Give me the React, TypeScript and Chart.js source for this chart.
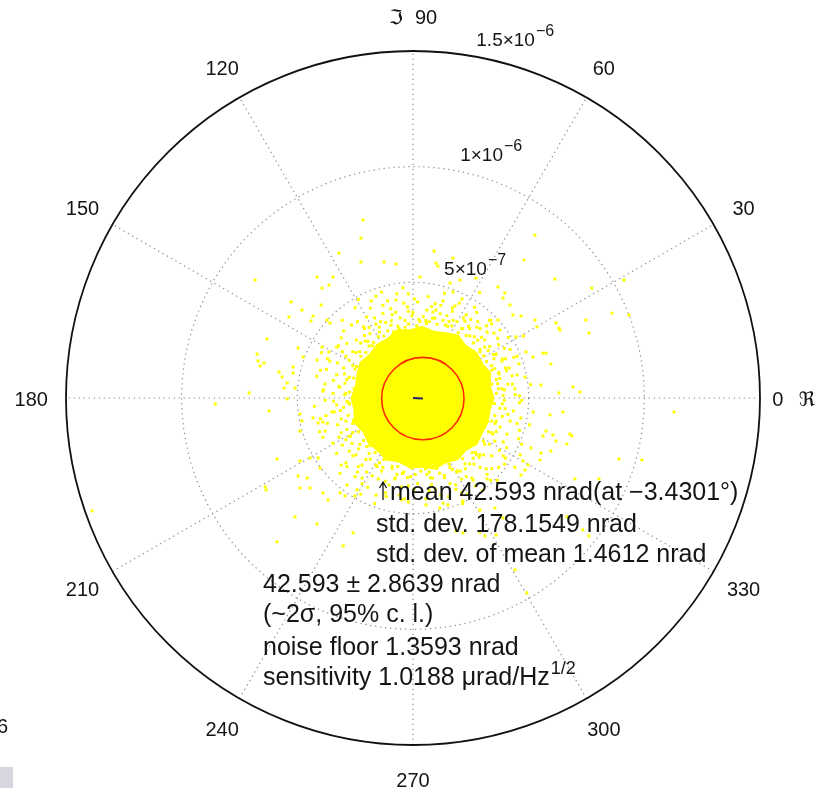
import { useEffect, useRef } from 'react';
import { Chart, registerables } from 'chart.js';

Chart.register(...registerables);

// All magnitudes in nrad (real part, imaginary part)
const ringValues = [500, 1000, 1500];
const ringLabelBase = ['5×10', '1×10', '1.5×10'];
const ringLabelExp = ['−7', '−6', '−6'];
const angleTicks = [0, 30, 60, 90, 120, 150, 180, 210, 240, 270, 300, 330];

const meanMagnitude = 42.593;
const meanAngleDeg = -3.4301;
const stdDev = 178.1549;
const stdDevOfMean = 1.4612;
const confidenceHalfWidth = 2.8639;
const noiseFloor = 1.3593;
const sensitivity = 1.0188;

// solid centre of the sample cloud (boundary vertices)
const coreOutline: [number, number][] = [
  [353, 0], [336, 52], [338, 108], [302, 151], [277, 199], [231, 228], [197, 273], [143, 284],
  [91, 291], [40, 312], [-12, 297], [-68, 298], [-110, 260], [-157, 235], [-188, 191], [-230, 156],
  [-244, 103], [-251, 51], [-270, 0], [-257, -52], [-256, -108], [-217, -149], [-195, -197], [-154, -231],
  [-116, -270], [-62, -279], [-14, -305], [40, -302], [95, -310], [143, -282], [195, -268], [231, -228],
  [279, -201], [302, -151], [328, -105], [335, -52],
];

// samples just outside the solid centre
const innerHalo: [number, number][] = [
  [360, 20], [375, 85], [340, 140], [325, 205], [280, 250], [245, 300], [190, 330], [130, 335],
  [70, 330], [400, 130], [310, 250], [170, 390], [420, 210], [100, 380], [280, 330], [440, 40],
  [350, 280], [60, 380], [390, 10], [210, 300], [360, 190], [120, 400], [230, 360], [450, 100],
  [290, 210], [150, 310], [95, 345], [385, 160], [330, 335], [410, 60],
  [30, 330], [-20, 320], [-65, 310], [-110, 290], [-150, 265], [-190, 225], [-225, 180], [-250, 125],
  [-275, 90], [-290, 20], [0, 370], [-90, 360], [-160, 320], [-210, 270], [-260, 200], [-300, 130],
  [-320, 50], [-40, 410], [-130, 400], [-200, 350], [-310, 260], [-360, 160], [-380, 60], [-70, 450],
  [-250, 390], [-230, 120], [-140, 330], [-305, 200], [-20, 450], [-180, 420],
  [-285, -15], [-280, -75], [-260, -150], [-230, -200], [-190, -240], [-145, -280], [-90, -305], [-40, -320],
  [10, -330], [-330, -30], [-310, -150], [-260, -250], [-200, -320], [-120, -360], [-20, -380], [-370, -110],
  [-330, -240], [-220, -370], [-50, -440], [-160, -290], [-290, -180], [-80, -350], [-340, -60], [20, -370],
  [-240, -320], [-400, -90], [-120, -410], [-310, -90],
  [60, -330], [115, -325], [170, -310], [225, -285], [275, -245], [310, -200], [340, -150], [360, -100],
  [375, -45], [80, -375], [160, -370], [230, -340], [290, -300], [340, -250], [390, -190], [420, -100],
  [460, -20], [120, -420], [210, -410], [320, -350], [400, -260], [460, -140], [270, -380], [370, -300],
  [190, -320], [340, -100], [260, -260], [410, -70],
];

// second band of samples around the centre
const midHalo: [number, number][] = [
  [385, 40], [370, 110], [350, 170], [310, 220], [265, 265], [215, 300], [155, 330], [85, 345],
  [415, 130], [370, 230], [320, 285], [250, 340], [170, 375], [80, 395], [430, 60], [400, 170],
  [290, 300], [450, 180], [340, 320], [200, 410], [370, 40], [340, 120], [290, 200], [230, 270],
  [140, 315], [55, 335], [460, 10], [395, 215], [275, 370], [130, 420], [360, 80], [240, 310],
  [25, 340], [-35, 335], [-95, 315], [-145, 285], [-195, 245], [-230, 200], [-260, 140], [-285, 80],
  [-295, 15], [-20, 375], [-75, 370], [-190, 305], [-245, 250], [-290, 180], [-330, 100], [-345, 20],
  [20, 415], [-110, 420], [-240, 330], [-330, 220], [-390, 30], [-60, 300], [-170, 240], [-255, 40],
  [-210, 300], [-130, 365], [-300, 290], [-370, 170], [-160, 440], [-400, 120],
  [-300, -40], [-290, -100], [-270, -165], [-235, -220], [-185, -265], [-130, -300], [-70, -330], [-10, -340],
  [-350, -60], [-320, -170], [-275, -230], [-220, -290], [-150, -350], [-50, -385], [-390, -170], [-310, -290],
  [-250, -340], [-160, -420], [-20, -450], [-280, -20], [-260, -110], [-200, -210], [-90, -295], [-290, -280],
  [-380, -10], [-60, -420],
  [75, -345], [135, -335], [190, -315], [245, -285], [290, -245], [330, -200], [360, -145], [385, -80],
  [395, -10], [70, -400], [185, -395], [260, -355], [340, -305], [405, -215], [450, -110], [470, -10],
  [130, -455], [300, -400], [440, -300], [520, -60], [70, -320], [160, -300], [270, -235], [355, -110],
  [210, -350], [320, -330], [390, -250], [470, -200],
];

// samples further out, thinning with distance
const haloPoints: [number, number][] = [
  [340, 60], [372, 104], [318, 158], [395, 35], [306, 182], [262, 238], [246, 268], [196, 282],
  [168, 312], [104, 318], [58, 322], [386, 168], [332, 222], [296, 262], [224, 332], [146, 356],
  [86, 372], [428, 96], [442, 14], [366, 258], [318, 312], [182, 398], [96, 408], [458, 148],
  [412, 262], [266, 392], [136, 452], [352, 126], [366, 62], [348, 188], [276, 306], [218, 346],
  [174, 336], [118, 364], [44, 352], [404, 118], [436, 176], [336, 336], [212, 428], [66, 438],
  [508, 58], [478, 268], [288, 456],
  [16, 312], [-34, 306], [-84, 286], [-126, 268], [-176, 226], [-204, 196], [-244, 136], [-256, 86],
  [-274, 26], [-4, 356], [-56, 346], [-118, 326], [-186, 278], [-226, 238], [-276, 164], [-296, 104],
  [-316, 46], [-24, 394], [-96, 386], [-166, 346], [-214, 308], [-286, 236], [-326, 152], [-344, 76],
  [6, 428], [-74, 424], [-184, 388], [-266, 316], [-322, 226], [-374, 124], [-386, 36], [-136, 458],
  [-306, 336], [-396, 196], [-44, 476], [-236, 426], [-416, 94], [-146, 306], [-206, 246], [-94, 334],
  [-246, 196], [-294, 64],
  [-274, -26], [-258, -96], [-236, -146], [-214, -184], [-164, -236], [-126, -266], [-66, -296], [-6, -302],
  [34, -316], [-314, -54], [-286, -136], [-264, -196], [-204, -266], [-156, -296], [-76, -346], [-24, -344],
  [-344, -14], [-326, -116], [-306, -204], [-236, -296], [-176, -336], [-104, -376], [4, -396], [-376, -76],
  [-346, -196], [-286, -296], [-196, -386], [-116, -426], [-36, -436], [-404, -146], [-316, -326], [-226, -416],
  [-166, -456], [-426, -36], [-186, -206], [-136, -316], [-276, -166], [-46, -326], [-246, -246],
  [54, -306], [104, -304], [156, -286], [214, -262], [256, -236], [304, -186], [326, -146], [354, -76],
  [352, -24], [84, -346], [136, -344], [204, -316], [264, -286], [306, -246], [354, -186], [376, -126],
  [398, -46], [96, -394], [184, -376], [254, -346], [316, -306], [374, -226], [406, -156], [434, -56],
  [56, -436], [154, -426], [236, -416], [336, -356], [396, -286], [456, -176], [466, -86], [214, -456],
  [364, -356], [464, -246], [504, -116], [116, -476], [286, -256], [226, -306], [346, -156], [386, -26],
];

// sparse samples in the tails of the distribution
const outerPoints: [number, number][] = [
  [-683, 510], [-527, 415], [-536, 350], [-631, 255], [-674, 190], [-670, 160], [-661, 138], [-644, 151],
  [-579, 112], [-566, 91], [-544, 65], [-557, 43], [-518, 108], [-708, 22], [-855, -26], [-622, -56],
  [-544, -4], [-510, 43], [-216, 769], [-225, 691], [-320, 626], [-225, 588], [-125, 588], [-73, 579],
  [-415, 523], [-346, 523], [-393, 475], [-363, 488], [-480, 380], [-397, 402], [-432, 354], [-441, 333],
  [-372, 337], [-359, 324], [-497, 216], [-518, 134], [-475, 177], [-415, 164], [-393, 220], [-363, 199],
  [527, 704], [91, 635], [99, 583], [108, 570], [480, 596], [613, 514], [773, 475], [389, 432],
  [397, 454], [419, 402], [432, 359], [467, 354], [527, 337], [536, 307], [618, 324], [631, 302],
  [747, 337], [760, 281], [562, 194], [575, 194], [596, 147], [518, 177], [488, 199], [691, 48],
  [631, 22], [553, 56], [484, 91], [445, 264], [367, 337], [376, 294], [272, 518], [203, 510],
  [160, 497], [173, 458], [30, 523], [912, 510], [860, 367], [933, 359], [635, 294], [721, 26],
  [648, -60], [1128, -60], [687, -164], [665, -199], [890, -264], [989, -268], [700, -350], [804, -350],
  [665, -514], [734, -570], [760, -596], [592, -73], [678, -156], [575, -143], [605, -160], [562, -164],
  [618, -186], [510, -216], [553, -238], [596, -229], [549, -268], [475, -272], [497, -289], [467, -333],
  [484, -311], [56, -462], [151, -462], [216, -445], [289, -484], [354, -475], [186, -575], [216, -583],
  [311, -596], [359, -592], [389, -518], [289, -579], [441, -743], [492, -842],
  [-588, -264], [-488, -69], [-480, -99], [-488, -143], [-432, -86], [-410, -108], [-389, -104], [-380, -143],
  [-488, -272], [-445, -259], [-410, -259], [-402, -302], [-458, -346], [-497, -337], [-635, -397], [-488, -389],
  [-445, -389], [-389, -410], [-367, -441], [-510, -514], [-415, -544], [-588, -622], [-302, -639], [-259, -583],
  [-315, -410], [-294, -423], [-251, -423], [-285, -376], [-242, -397], [-220, -346], [-639, -384], [-1387, -488],
  [173, 605], [367, 480],
];

const FONT = '"Liberation Sans", Arial, "DejaVu Sans", sans-serif';
const TEXT = '#151515';

const meanRe = meanMagnitude * Math.cos((meanAngleDeg * Math.PI) / 180);
const meanIm = meanMagnitude * Math.sin((meanAngleDeg * Math.PI) / 180);

const toXY = (pts: [number, number][]) => pts.map(([x, y]) => ({ x, y }));

function drawSup(ctx: CanvasRenderingContext2D, base: string, sup: string, x: number, y: number,
  baseSize: number, supSize: number, raise: number) {
  ctx.font = `${baseSize}px ${FONT}`;
  ctx.textAlign = 'left';
  ctx.textBaseline = 'alphabetic';
  ctx.fillText(base, x, y);
  const w = ctx.measureText(base).width;
  ctx.font = `${supSize}px ${FONT}`;
  ctx.fillText(sup, x + w + 1, y - raise);
}

const polarPlugin = {
  id: 'polarFrame',
  beforeDatasetsDraw(chart: any) {
    const { ctx, scales } = chart;
    const sx = scales.x, sy = scales.y;
    const cx = sx.getPixelForValue(0);
    const cy = sy.getPixelForValue(0);
    const rad = (v: number) => sx.getPixelForValue(v) - cx;
    const rMax = rad(ringValues[ringValues.length - 1]);
    ctx.save();
    ctx.strokeStyle = '#8e8e8e';
    ctx.lineWidth = 1.2;
    ctx.setLineDash([1.3, 3.7]);
    ringValues.slice(0, -1).forEach((v) => {
      ctx.beginPath();
      ctx.arc(cx, cy, rad(v), 0, Math.PI * 2);
      ctx.stroke();
    });
    angleTicks.filter((a) => a > 0 && a <= 180).forEach((a) => {
      const t = (a * Math.PI) / 180;
      ctx.beginPath();
      ctx.moveTo(cx - rMax * Math.cos(t), cy + rMax * Math.sin(t));
      ctx.lineTo(cx + rMax * Math.cos(t), cy - rMax * Math.sin(t));
      ctx.stroke();
    });
    ctx.setLineDash([]);
    // dense centre of the cloud
    ctx.fillStyle = '#ffff00';
    ctx.beginPath();
    coreOutline.forEach(([re, im], i) => {
      const px = sx.getPixelForValue(re), py = sy.getPixelForValue(im);
      if (i === 0) ctx.moveTo(px, py); else ctx.lineTo(px, py);
    });
    ctx.closePath();
    ctx.fill();
    ctx.restore();
  },
  afterDatasetsDraw(chart: any) {
    const { ctx, scales } = chart;
    const sx = scales.x, sy = scales.y;
    const cx = sx.getPixelForValue(0);
    const cy = sy.getPixelForValue(0);
    const rad = (v: number) => sx.getPixelForValue(v) - cx;
    const rMax = rad(ringValues[ringValues.length - 1]);
    ctx.save();

    // one standard deviation around the mean
    ctx.strokeStyle = '#ff2a00';
    ctx.lineWidth = 1.6;
    ctx.beginPath();
    ctx.arc(sx.getPixelForValue(meanRe), sy.getPixelForValue(meanIm), rad(stdDev), 0, Math.PI * 2);
    ctx.stroke();

    // outer boundary
    ctx.strokeStyle = '#111';
    ctx.lineWidth = 1.8;
    ctx.beginPath();
    ctx.arc(cx, cy, rMax, 0, Math.PI * 2);
    ctx.stroke();

    ctx.fillStyle = TEXT;
    // angle labels
    ctx.font = `20px ${FONT}`;
    ctx.textBaseline = 'middle';
    angleTicks.forEach((a) => {
      const t = (a * Math.PI) / 180;
      const lx = cx + 1.1 * rMax * Math.cos(t);
      const ly = cy - 1.1 * rMax * Math.sin(t) + 2;
      if (a === 90) {
        ctx.textAlign = 'right';
        ctx.fillText('ℑ', lx - 10, ly);
        ctx.textAlign = 'left';
        ctx.fillText(String(a), lx + 2, ly);
      } else if (a === 0) {
        ctx.textAlign = 'center';
        ctx.fillText(String(a), lx - 17, ly);
        ctx.textAlign = 'left';
        ctx.fillText('ℜ', lx + 4, ly);
      } else {
        ctx.textAlign = 'center';
        ctx.fillText(String(a), lx, ly);
      }
    });

    // radial tick labels
    const c82 = Math.cos((82 * Math.PI) / 180), s82 = Math.sin((82 * Math.PI) / 180);
    ringValues.forEach((v, i) => {
      const r = rad(v);
      drawSup(ctx, ringLabelBase[i], ringLabelExp[i], cx + r * c82 + 15, cy - r * s82 - 8, 19, 16, 10);
    });

    // statistics
    const big = 25;
    const ax = cx - 30;
    ctx.strokeStyle = TEXT;
    ctx.lineWidth = 1.3;
    ctx.beginPath();
    ctx.moveTo(ax, cy + 102);
    ctx.lineTo(ax, cy + 84);
    ctx.moveTo(ax - 3.5, cy + 90);
    ctx.lineTo(ax, cy + 84);
    ctx.lineTo(ax + 3.5, cy + 90);
    ctx.stroke();
    ctx.font = `${big}px ${FONT}`;
    ctx.textAlign = 'left';
    ctx.textBaseline = 'alphabetic';
    ctx.fillText(`mean ${meanMagnitude} nrad(at −${Math.abs(meanAngleDeg)}°)`, cx - 23, cy + 102);
    ctx.fillText(`std. dev. ${stdDev} nrad`, cx - 37, cy + 134);
    ctx.fillText(`std. dev. of mean ${stdDevOfMean} nrad`, cx - 37, cy + 164);
    ctx.fillText(`${meanMagnitude} ± ${confidenceHalfWidth} nrad`, cx - 150, cy + 194);
    ctx.fillText('(~2σ, 95% c. l.)', cx - 150, cy + 224);
    ctx.fillText(`noise floor ${noiseFloor} nrad`, cx - 150, cy + 257);
    drawSup(ctx, `sensitivity ${sensitivity} μrad/Hz`, '1/2', cx - 150, cy + 287, big, 18, 11);

    // page edge remnants
    ctx.font = `20px ${FONT}`;
    ctx.fillStyle = TEXT;
    ctx.fillText('6', -3, 733);
    ctx.fillStyle = '#d6d6de';
    ctx.fillRect(0, 767, 13, 21);
    ctx.restore();
  },
};

const pointStyle = {
  backgroundColor: '#ffff00',
  borderWidth: 0,
  pointStyle: 'rect' as const,
  pointRadius: 2.1,
};

export default function App() {
  const ref = useRef<HTMLCanvasElement | null>(null);
  useEffect(() => {
    if (!ref.current) return;
    const chart = new Chart(ref.current, {
      type: 'scatter',
      data: {
        datasets: [
          { data: toXY(innerHalo), ...pointStyle },
          { data: toXY(midHalo), ...pointStyle },
          { data: toXY(haloPoints), ...pointStyle },
          { data: toXY(outerPoints), ...pointStyle },
          {
            data: [{ x: 0, y: 0 }, { x: meanRe, y: meanIm }],
            showLine: true,
            borderColor: '#1e2270',
            borderWidth: 2,
            pointRadius: 0,
          },
        ],
      },
      options: {
        animation: false,
        responsive: false,
        events: [],
        layout: { padding: { left: 66, right: 60, top: 51, bottom: 43 } },
        scales: {
          x: { type: 'linear', min: -1500, max: 1500, display: false },
          y: { type: 'linear', min: -1500, max: 1500, display: false },
        },
        plugins: { legend: { display: false }, tooltip: { enabled: false } },
      },
      plugins: [polarPlugin],
    });
    return () => chart.destroy();
  }, []);
  return (
    <div style={{ position: 'fixed', left: 0, top: 0, width: 820, height: 788, background: '#fff' }}>
      <canvas ref={ref} width={820} height={788} />
    </div>
  );
}
